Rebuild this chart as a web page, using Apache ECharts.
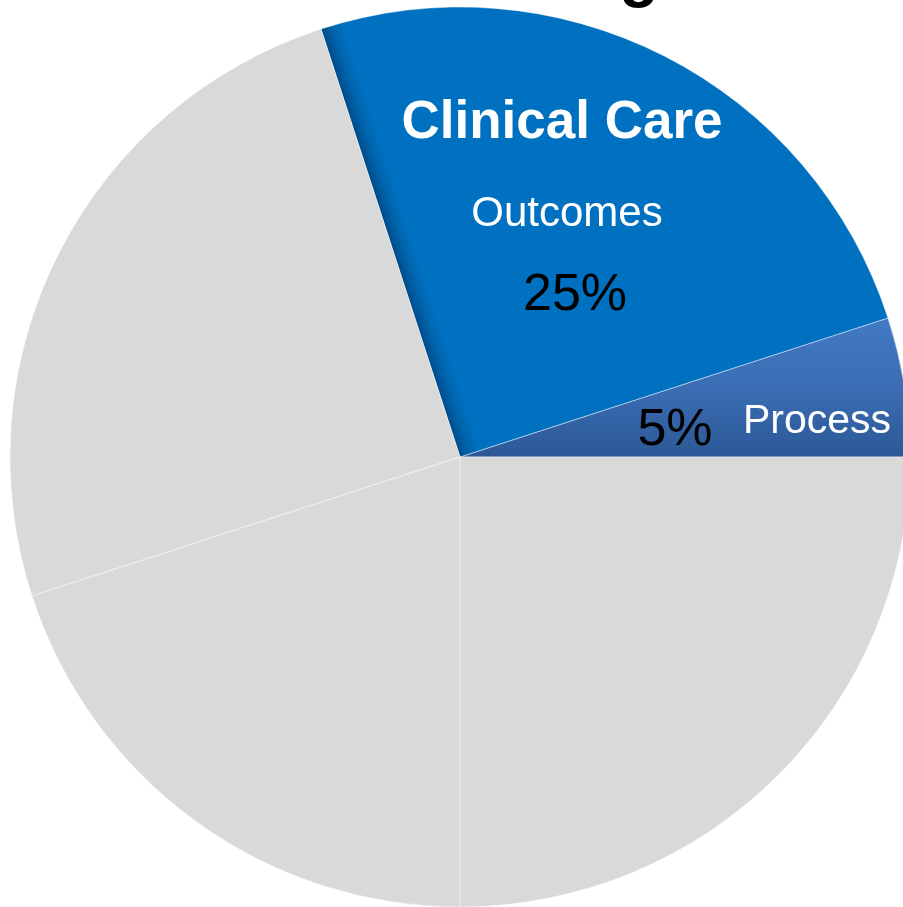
<!DOCTYPE html>
<html>
<head>
<meta charset="utf-8">
<script src="https://cdn.jsdelivr.net/npm/echarts@6/dist/echarts.min.js"></script>
<style>
html,body{margin:0;padding:0;background:#fff;}
#chart{width:903px;height:907px;}
</style>
</head>
<body>
<div id="chart"></div>
<script>
// Slices, counter-clockwise from 3 o'clock
const sliceNames = ['Process', 'Outcomes', 'Other factors A', 'Other factors B', 'Other factors C'];
const sliceValues = [5, 25, 25, 20, 25];
const sliceColors = ['#3A6DB3', '#0070C0', '#D9D9D9', '#D9D9D9', '#D9D9D9'];

// Texts shown on the chart
const headerText = 'Clinical Care';
const outcomesLabel = 'Outcomes';
const outcomesPct = '25%';
const processLabel = 'Process';
const processPct = '5%';
const topTitleFragment = 'g';

const FONT = '"Liberation Sans", Arial, sans-serif';
const chart = echarts.init(document.getElementById('chart'), null, {renderer: 'canvas'});

const processFill = {
  type: 'linear', global: true, x: 0, y: 320, x2: 0, y2: 457,
  colorStops: [{offset: 0, color: '#4279C4'}, {offset: 0.5, color: '#3A6DB3'}, {offset: 1, color: '#2C5896'}]
};
const outcomesFill = {
  type: 'linear', global: true, x: 460, y: 457, x2: 460 + 0.951 * 20, y2: 457 - 0.307 * 20,
  colorStops: [{offset: 0, color: '#004C8A'}, {offset: 0.45, color: '#0061A8'}, {offset: 1, color: '#0070C0'}]
};
const fills = [processFill, outcomesFill, sliceColors[2], sliceColors[3], sliceColors[4]];

function txt(s, x, y, size, weight, color) {
  return {
    type: 'text', x: x, y: y, silent: true, z: 100,
    style: {
      text: s, fill: color, fontSize: size, fontWeight: weight, fontFamily: FONT,
      align: 'center', verticalAlign: 'bottom'
    }
  };
}

chart.setOption({
  animation: false,
  backgroundColor: '#ffffff',
  series: [{
    type: 'pie',
    center: [460, 457],
    radius: [0, 450],
    startAngle: 0,
    clockwise: false,
    label: {show: false},
    labelLine: {show: false},
    emphasis: {disabled: true},
    itemStyle: {borderColor: 'rgba(255,255,255,0.45)', borderWidth: 1},
    data: sliceNames.map((n, i) => ({name: n, value: sliceValues[i], itemStyle: {color: fills[i]}}))
  }],
  graphic: {
    elements: [
      txt(headerText, 562, 150, 53, 'bold', '#ffffff'),
      txt(outcomesLabel, 567, 235, 42, 'normal', '#ffffff'),
      txt(outcomesPct, 575, 322, 52, 'normal', '#000000'),
      txt(processPct, 675, 457, 52, 'normal', '#000000'),
      txt(processLabel, 817, 442, 41, 'normal', '#ffffff'),
      txt(topTitleFragment, 639, 9, 64, 'bold', '#000000')
    ]
  }
});
</script>
</body>
</html>
